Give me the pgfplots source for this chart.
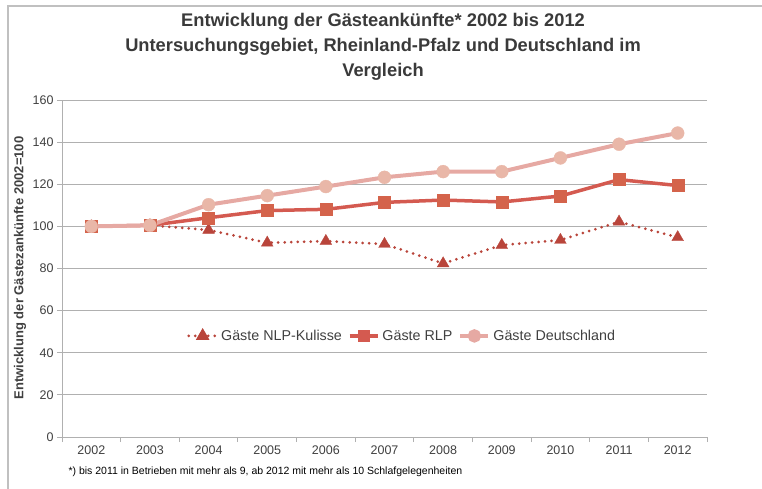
\documentclass[border=0pt]{standalone}
\usepackage{pgfplots}
\pgfplotsset{compat=1.18}
\usepackage{fontspec}
\setmainfont{Liberation Sans}
\definecolor{gridc}{HTML}{B0B0B0}
\definecolor{txt}{HTML}{404040}
\definecolor{dline}{HTML}{E6A9A3}
\definecolor{dmark}{HTML}{E9B7A8}
\definecolor{rline}{HTML}{D45A50}
\definecolor{rmark}{HTML}{D4634B}
\definecolor{nline}{HTML}{B9453B}
\begin{document}
\begin{tikzpicture}[x=1pt,y=1pt]
\useasboundingbox (0,0) rectangle (762,-488);
\draw[gridc!80,line width=1.2pt] (8,-500) -- (8,-6) -- (770,-6);
\node[align=center,font=\bfseries\fontsize{18.3}{25}\selectfont,text=txt!90!black] at (383,-47)
{Entwicklung der Gästeankünfte* 2002 bis 2012\\Untersuchungsgebiet, Rheinland-Pfalz und Deutschland im\\Vergleich};
\node[rotate=90, font=\bfseries\fontsize{13}{15}\selectfont, text=txt] at (20,-268)
{Entwicklung der Gästezankünfte 2002=100};
\begin{axis}[
  at={(62pt,-437pt)}, anchor=south west,
  scale only axis, width=645pt, height=337pt,
  xmin=-0.5, xmax=10.5, ymin=0, ymax=160,
  ytick={0,20,...,160},
  xtick={0,...,10},
  xticklabels={2002,2003,2004,2005,2006,2007,2008,2009,2010,2011,2012},
  minor xtick={-0.5,0.5,...,10.5},
  axis x line*=bottom, axis y line*=left,
  axis line style={gridc, line width=1pt, -},
  ymajorgrids, major grid style={gridc, line width=0.9pt},
  tick align=outside,
  major x tick style={draw=none},
  minor x tick style={gridc, line width=0.9pt},
  major y tick style={gridc, line width=0.9pt},
  major tick length=5pt, minor tick length=5pt,
  ticklabel style={font=\fontsize{12.5}{14}\selectfont, text=txt},
  /pgf/number format/assume math mode=true,
  legend columns=3,
  legend style={draw=none, fill=none, at={(axis cs:5.3,48)}, anchor=center,
    font=\fontsize{14.3}{16}\selectfont, text=txt, inner sep=0pt,
    /tikz/every odd column/.append style={column sep=1pt},
    /tikz/every even column/.append style={column sep=4pt}},
  legend cell align=left,
  legend image code/.code={\draw[#1] (0pt,0pt) -- (28pt,0pt); \draw[#1,solid,mark options={scale=0.72}] plot coordinates {(14pt,0pt)};},
]
\addplot[nline, line width=3pt, dash pattern=on 0pt off 6.5pt, line cap=round,
  mark=triangle*, mark size=6.8pt, mark options={solid, fill=nline, draw=nline, line width=0.3pt}]
  coordinates {(0,100) (1,100.5) (2,98.3) (3,92.2) (4,93) (5,91.6) (6,82.4) (7,91.1) (8,93.5) (9,102.2) (10,94.8)};
\addlegendentry{Gäste NLP-Kulisse}
\addplot[rline, line width=3.5pt,
  mark=square*, mark size=6pt, mark options={fill=rmark, draw=rmark, line width=0.3pt}]
  coordinates {(0,100) (1,100.5) (2,104.1) (3,107.5) (4,108.1) (5,111.4) (6,112.5) (7,111.6) (8,114.4) (9,122.2) (10,119.4)};
\addlegendentry{Gäste RLP}
\addplot[dline, line width=4pt,
  mark=*, mark size=6.5pt, mark options={fill=dmark, draw=dmark, line width=0.3pt}]
  coordinates {(0,100) (1,100.5) (2,110.3) (3,114.6) (4,118.9) (5,123.3) (6,126) (7,126) (8,132.5) (9,139) (10,144.3)};
\addlegendentry{Gäste Deutschland}
\end{axis}
\node[anchor=west, font=\fontsize{10.5}{12}\selectfont, text=black] at (65,-472)
{*) bis 2011 in Betrieben mit mehr als 9, ab 2012 mit mehr als 10 Schlafgelegenheiten};
\end{tikzpicture}
\end{document}
